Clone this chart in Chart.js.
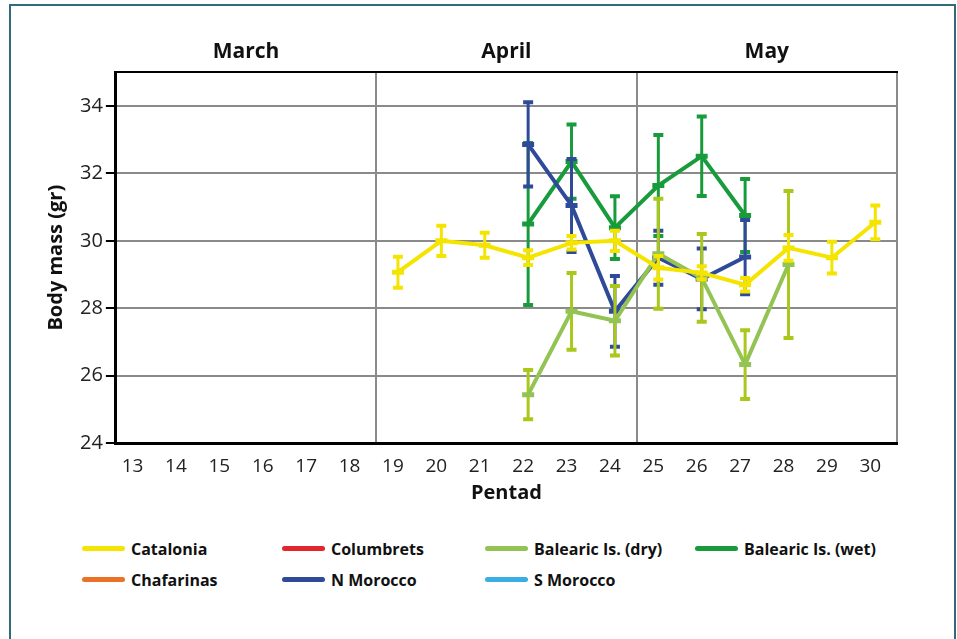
<!DOCTYPE html>
<html>
<head>
<meta charset="utf-8">
<script src="https://cdn.jsdelivr.net/npm/chart.js@4.4.1/dist/chart.umd.min.js"></script>
<style>
  html, body { margin: 0; padding: 0; background: #fff; }
  body { width: 957px; height: 639px; position: relative; overflow: hidden; font-family: "Open Sans", sans-serif; }
  #frame { position: absolute; left: 9px; top: 4px; width: 947px; height: 700px; border: 2px solid #2f6b78; box-sizing: border-box; }
  #wrap { position: absolute; left: 0; top: 0; width: 957px; height: 511px; }
  #legend { position: absolute; left: 82px; top: 538px; display: grid; grid-template-columns: 200px 203px 210px 200px; row-gap: 10px; }
  .item { display: flex; align-items: center; font-weight: bold; font-size: 16px; color: #111; height: 21px; }
  .swatch { width: 43px; height: 5px; border-radius: 3px; margin-right: 6px; }
</style>
</head>
<body>
<div id="frame"></div>
<div id="wrap"><canvas id="chart"></canvas></div>
<div id="legend"></div>
<script>
// pentads 13..30, months on top
const pentads = ['13', '14', '15', '16', '17', '18', '19', '20', '21', '22', '23', '24', '25', '26', '27', '28', '29', '30'];
const months = ['March', 'April', 'May'];

const seriesNames = ['Catalonia', 'Columbrets', 'Balearic Is. (dry)', 'Balearic Is. (wet)', 'Chafarinas', 'N Morocco', 'S Morocco'];
const seriesColors = ['#f4e400', '#e3262b', '#93c353', '#179b3b', '#ea7125', '#2f4a99', '#3aaee2'];
const errColors = ['#f4e400', '#e3262b', '#a8c81c', '#179b3b', '#ea7125', '#2f4a99', '#3aaee2'];

// mean body mass per pentad (null = no data)
const catalonia    = [null, null, null, null, null, null, 29.07, 30.0, 29.87, 29.5, 29.94, 30.0, 29.2, 29.05, 28.7, 29.79, 29.5, 30.55];
const cataloniaErr = [null, null, null, null, null, null, 0.46, 0.45, 0.37, 0.22, 0.2, 0.3, 0.35, 0.2, 0.2, 0.38, 0.47, 0.5];
const balDry    = [null, null, null, null, null, null, null, null, null, 25.44, 27.91, 27.63, 29.62, 28.9, 26.33, 29.3, null, null];
const balDryErr = [null, null, null, null, null, null, null, null, null, 0.73, 1.14, 1.03, 1.63, 1.3, 1.02, 2.18, null, null];
const balWet    = [null, null, null, null, null, null, null, null, null, 30.5, 32.35, 30.39, 31.64, 32.51, 30.75, null, null, null];
const balWetErr = [null, null, null, null, null, null, null, null, null, 2.4, 1.1, 0.93, 1.5, 1.18, 1.08, null, null, null];
const nMorocco    = [null, null, null, null, null, null, null, null, null, 32.86, 31.05, 27.91, 29.5, 28.87, 29.52, null, null, null];
const nMoroccoErr = [null, null, null, null, null, null, null, null, null, 1.25, 1.38, 1.05, 0.8, 0.9, 1.1, null, null, null];
const empty = pentads.map(() => null);

const seriesData = [catalonia, empty, balDry, balWet, empty, nMorocco, empty];
const seriesErr = [cataloniaErr, null, balDryErr, balWetErr, null, nMoroccoErr, null];
const drawOrder = [0, 5, 1, 3, 6, 2, 7]; // lower = drawn on top

Chart.defaults.font.family = "'Open Sans', sans-serif";
Chart.defaults.color = '#222';

// vertical error bars with caps, drawn just under each dataset's line
const errorBars = {
  id: 'errorBars',
  beforeDatasetDraw(chart, args) {
    const ds = chart.data.datasets[args.index];
    if (!ds.errors) return;
    const y = chart.scales.y;
    const ctx = chart.ctx;
    ctx.save();
    ctx.strokeStyle = ds.errorColor;
    ctx.lineWidth = 3;
    args.meta.data.forEach((pt, i) => {
      const v = ds.data[i], e = ds.errors[i];
      if (v == null || e == null) return;
      const top = y.getPixelForValue(v + e);
      const bot = y.getPixelForValue(v - e);
      ctx.beginPath();
      ctx.moveTo(pt.x, top); ctx.lineTo(pt.x, bot);
      ctx.stroke();
      ctx.lineWidth = 4;
      ctx.beginPath();
      ctx.moveTo(pt.x - 5, top); ctx.lineTo(pt.x + 5, top);
      ctx.moveTo(pt.x - 5, bot); ctx.lineTo(pt.x + 5, bot);
      ctx.stroke();
      ctx.lineWidth = 3;
    });
    ctx.restore();
  }
};

const datasets = seriesNames.map((name, k) => ({
  label: name,
  data: seriesData[k],
  errors: seriesErr[k],
  errorColor: errColors[k],
  borderColor: seriesColors[k],
  backgroundColor: seriesColors[k],
  borderWidth: 4,
  pointStyle: 'line',
  pointRadius: 6,
  pointBorderWidth: 5,
  pointBorderColor: seriesColors[k],
  tension: 0,
  order: drawOrder[k]
}));

new Chart(document.getElementById('chart'), {
  type: 'line',
  data: { labels: pentads, datasets: datasets },
  plugins: [errorBars],
  options: {
    responsive: true,
    maintainAspectRatio: false,
    animation: false,
    layout: { padding: { left: 40, right: 60, top: 31, bottom: 6 } },
    plugins: { legend: { display: false }, tooltip: { enabled: false } },
    scales: {
      x: {
        type: 'category',
        offset: true,
        grid: { drawOnChartArea: false, drawTicks: false },
        border: { color: '#000', width: 3 },
        ticks: { font: { size: 19 }, color: '#222', padding: 12, labelOffset: -5, autoSkip: false, maxRotation: 0 },
        title: { display: true, text: 'Pentad', font: { size: 20, weight: 'bold' }, color: '#111', padding: { top: -9, bottom: 0 } }
      },
      months: {
        type: 'category',
        labels: months,
        position: 'top',
        offset: true,
        grid: {
          offset: true,
          drawTicks: false,
          lineWidth: 2,
          color: ctx => ctx.index === 0 ? 'rgba(0,0,0,0)' : '#8a8a8a'
        },
        border: { color: '#000', width: 2 },
        ticks: { font: { size: 21, weight: 'bold' }, color: '#111', padding: 8 }
      },
      y: {
        min: 24,
        max: 35,
        grid: { color: '#8a8a8a', lineWidth: 2, tickLength: 10, tickColor: '#000', tickWidth: 2 },
        border: { color: '#000', width: 3 },
        ticks: { stepSize: 2, includeBounds: false, font: { size: 20 }, color: '#222', padding: 3 },
        title: { display: true, text: 'Body mass (gr)', font: { size: 20, weight: 'bold' }, color: '#111', padding: { bottom: 9 } }
      }
    }
  }
});

// legend below the chart
const legend = document.getElementById('legend');
seriesNames.forEach((name, k) => {
  const item = document.createElement('div');
  item.className = 'item';
  item.innerHTML = '<span class="swatch" style="background:' + seriesColors[k] + '"></span>' + name;
  legend.appendChild(item);
});
</script>
</body>
</html>
